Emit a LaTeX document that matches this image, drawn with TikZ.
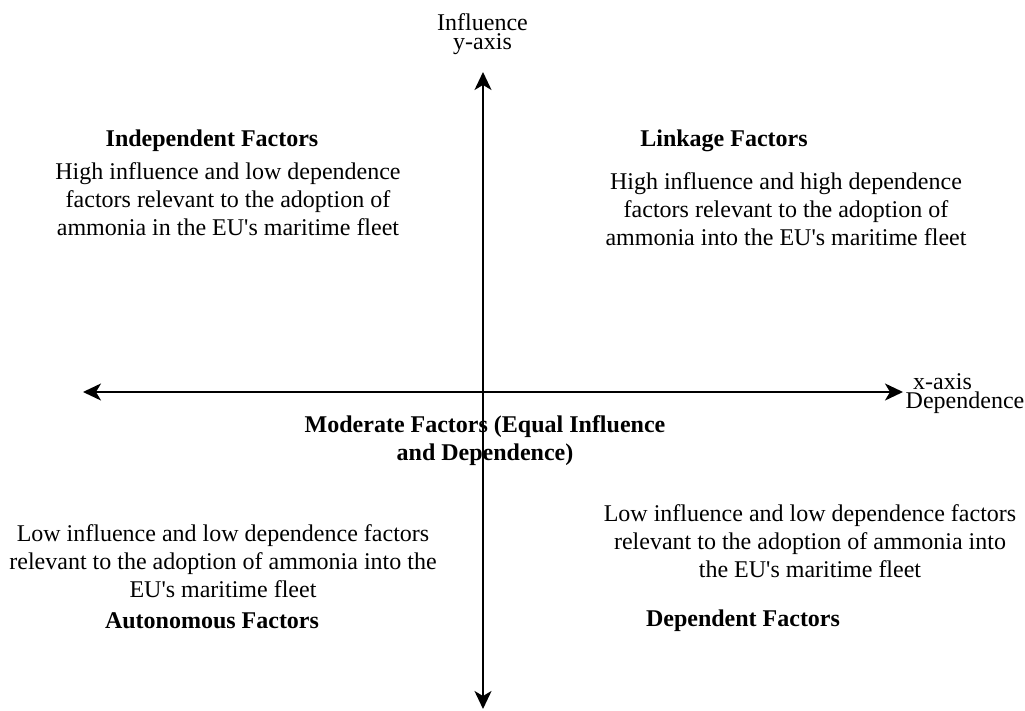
\documentclass[tikz,border=0pt]{standalone}
\usepackage{fontspec}
\setmainfont{Liberation Serif}
\usetikzlibrary{arrows.meta}
\begin{document}
\begin{tikzpicture}[x=1pt,y=-1pt,
  axis/.style={line width=1.8pt,{Stealth[length=18pt,width=17pt,inset=5pt]}-{Stealth[length=18pt,width=17pt,inset=5pt]}},
  body/.style={align=center,inner sep=0pt,font=\fontsize{24}{28}\selectfont},
  head/.style={body,font=\fontsize{24}{28}\selectfont\bfseries},
  lbl/.style={inner sep=0pt,anchor=base,font=\fontsize{24}{24}\selectfont}]
\useasboundingbox (0,0) rectangle (1025,711);
% axes
\coordinate (top) at (483,72);
\coordinate (bottom) at (483,709);
\coordinate (left) at (83,392);
\coordinate (right) at (903,392);
\draw[axis] (bottom) -- (top);
\draw[axis] (left) -- (right);
% axis labels (placed by baseline)
\node[lbl] (ylab1) at (482.5,31) {Influence};
\node[lbl] (ylab2) at (482.5,50) {y-axis};
\node[lbl] (xlab1) at (942.5,389) {x-axis};
\node[lbl] (xlab2) at (965,408) {Dependence};
% quadrant texts
\node[head] (indep) at (212,141) {Independent Factors};
\node[body] (indeptxt) at (228,199) {High influence and low dependence\\factors relevant to the adoption of\\ammonia in the EU\textquotesingle s maritime fleet};
\node[head] (link) at (724,141) {Linkage Factors};
\node[body] (linktxt) at (786,209) {High influence and high dependence\\factors relevant to the adoption of\\ammonia into the EU\textquotesingle s maritime fleet};
\node[head] (moder) at (485,441) {Moderate Factors (Equal Influence\\and Dependence)};
\node[body] (autotxt) at (223,561) {Low influence and low dependence factors\\relevant to the adoption of ammonia into the\\EU\textquotesingle s maritime fleet};
\node[head] (auto) at (212,621) {Autonomous Factors};
\node[body] (deptxt) at (810,541) {Low influence and low dependence factors\\relevant to the adoption of ammonia into\\the EU\textquotesingle s maritime fleet};
\node[head] (dep) at (743,621) {Dependent Factors};
\end{tikzpicture}
\end{document}
